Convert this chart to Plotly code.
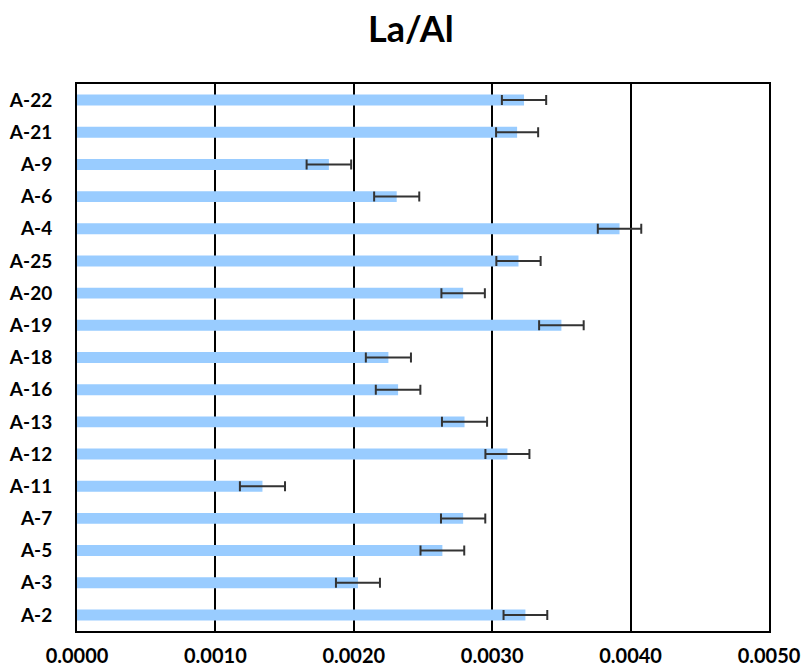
import plotly.graph_objects as go

categories = ["A-2", "A-3", "A-5", "A-7", "A-11", "A-12", "A-13", "A-16", "A-18",
              "A-19", "A-20", "A-25", "A-4", "A-6", "A-9", "A-21", "A-22"]
values = [0.00324, 0.00203, 0.00264, 0.00279, 0.00134, 0.00311, 0.00280, 0.00232, 0.00225,
          0.00350, 0.00279, 0.00319, 0.00392, 0.00231, 0.00182, 0.00318, 0.00323]
errors = [0.000158, 0.000159, 0.000158, 0.000160, 0.000163, 0.000159, 0.000163, 0.000161, 0.000163,
          0.000161, 0.000157, 0.000160, 0.000157, 0.000163, 0.000161, 0.000152, 0.000160]
tick_vals = [0, 0.001, 0.002, 0.003, 0.004, 0.005]
tick_text = ["0.0000", "0.0010", "0.0020", "0.0030", "0.0040", "0.0050"]

FONT = "Lato, 'Open Sans', sans-serif"

fig = go.Figure(go.Bar(
    x=values, y=categories, orientation="h",
    marker=dict(color="#99CCFF", line=dict(width=0)),
    error_x=dict(type="data", array=errors, visible=True,
                 color="#333333", thickness=2, width=5),
))

fig.update_layout(
    width=804, height=671,
    margin=dict(l=77, r=35, t=84, b=40),
    paper_bgcolor="white", plot_bgcolor="white",
    bargap=0.66,
    showlegend=False,
    title=dict(text="<b>La/Al</b>", x=0.511, xanchor="center", xref="container",
               y=1 - 29 / 671, yanchor="middle", yref="container",
               font=dict(family=FONT, size=36, color="black")),
    font=dict(family=FONT, color="black"),
)
fig.update_xaxes(
    range=[0, 0.005], tickvals=tick_vals, ticktext=tick_text,
    showgrid=True, gridcolor="black", gridwidth=2,
    showline=True, linecolor="black", linewidth=2, mirror=True,
    zeroline=False, ticks="", ticklabelstandoff=6, automargin=False,
    tickfont=dict(family=FONT, size=20, color="black", weight="bold"),
)
fig.update_yaxes(
    categoryorder="array", categoryarray=categories,
    showgrid=False,
    showline=True, linecolor="black", linewidth=2, mirror=True,
    ticks="", ticklabelstandoff=19, automargin=False,
    tickfont=dict(family=FONT, size=19, color="black", weight="bold"),
)

fig.write_html("out.html", config={"displayModeBar": False},
               post_script="document.body.style.margin='0';document.body.style.overflow='hidden';")
